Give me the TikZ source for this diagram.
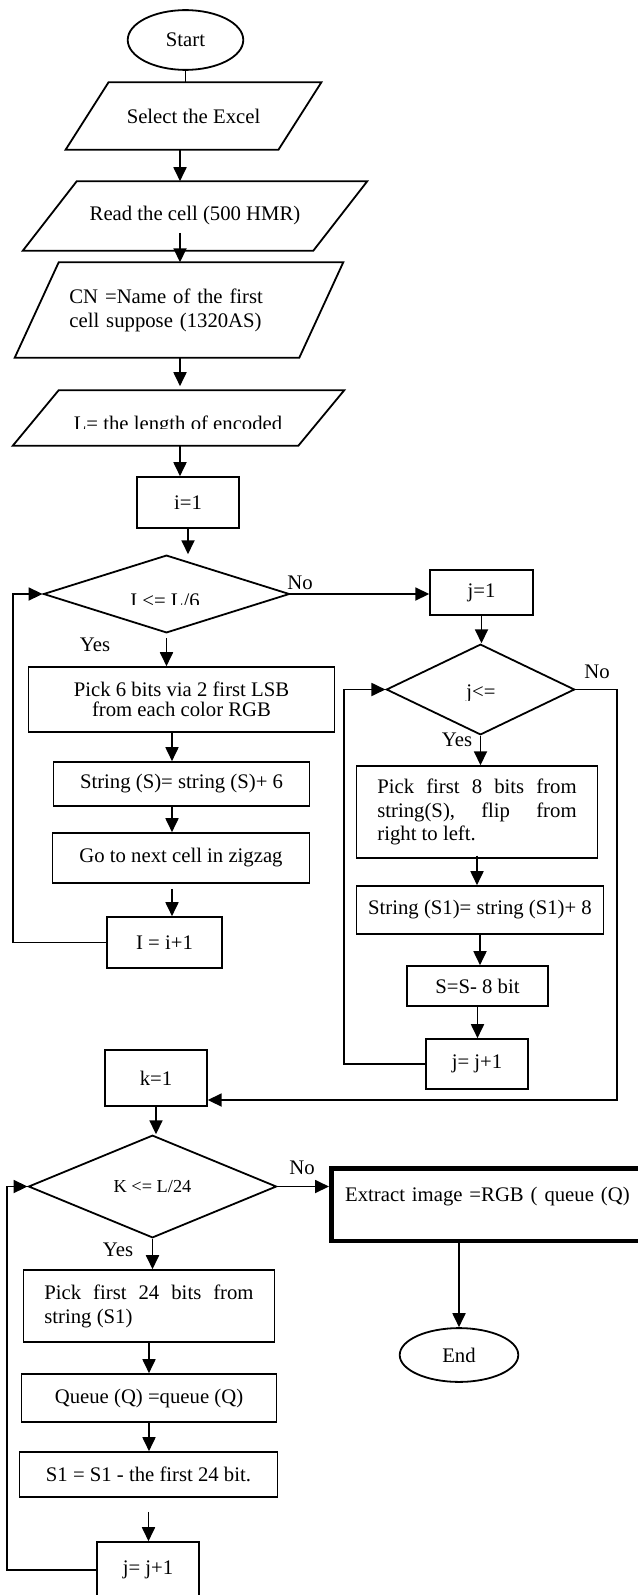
\documentclass[tikz,border=0pt]{standalone}
\usepackage{fontspec}
\setmainfont{Liberation Serif}
\usetikzlibrary{arrows.meta,calc,shapes.geometric}

\begin{document}
\begin{tikzpicture}[
    x=1bp, y=-1bp,
    font=\fontsize{20.8}{24}\selectfont,
    line width=1.8bp,
    box/.style={draw, rectangle, inner sep=0pt},
    io/.style={rectangle, inner sep=0pt},
    dec/.style={draw, diamond, inner sep=0pt},
    term/.style={draw, ellipse, inner sep=0pt},
    arr/.style={-{Triangle[length=14bp,width=13bp]}},
    lbl/.style={inner sep=0pt}
  ]
  \clip (0,0) rectangle (638,1595);

  % first column
  \node[term, minimum width=116, minimum height=60] (start) at (185.5,40) {Start};
  \node[io, minimum width=255, minimum height=66] (excel) at (193.5,116) {Select the Excel};
  \node[io, minimum width=344, minimum height=68] (readcell) at (195,216) {Read the cell (500 HMR)};
  \node[io, minimum width=328, minimum height=94, text width=220, align=left] (cname) at (179,310)
        {CN =Name of the first\\cell suppose (1320AS)};
  \node[io, minimum width=331, minimum height=54] (len) at (178.5,418) {};
  \begin{scope}
    \clip (0,380) rectangle (638,428);
    \node[lbl, anchor=base] (lentext) at (178,430) {L= the length of encoded};
  \end{scope}
  % slanted outlines of the input boxes
  \draw (excel.south west) -- ($(excel.south east)+(-43,0)$) -- (excel.north east)
        -- ($(excel.north west)+(43,0)$) -- cycle;
  \draw (readcell.south west) -- ($(readcell.south east)+(-54,0)$) -- (readcell.north east)
        -- ($(readcell.north west)+(54,0)$) -- cycle;
  \draw (cname.south west) -- ($(cname.south east)+(-44,0)$) -- (cname.north east)
        -- ($(cname.north west)+(44,0)$) -- cycle;
  \draw (len.south west) -- ($(len.south east)+(-46,0)$) -- (len.north east)
        -- ($(len.north west)+(46,0)$) -- cycle;

  \node[box, minimum width=102, minimum height=51] (ione) at (188,502.5) {i=1};
  \node[dec, minimum width=247, minimum height=78] (cond1) at (166.5,594) {\phantom{X}};
  \begin{scope}
    \clip (40,560) rectangle (290,604);
    \node[lbl, anchor=base] (cond1text) at (165,607) {I <= L/6};
  \end{scope}
  \node[box, minimum width=307, minimum height=65, align=center,
        font=\fontsize{20.8}{20}\selectfont] (pick6) at (181.5,699.5)
        {Pick 6 bits via 2 first LSB\\from each color RGB};
  \node[box, minimum width=257, minimum height=44] (str6) at (181.5,784) {String (S)= string (S)+ 6};
  \node[box, minimum width=258, minimum height=50] (next) at (181,858) {Go to next cell in zigzag};
  \node[box, minimum width=115, minimum height=51] (iinc) at (164.5,942.5) {I = i+1};

  % second column
  \node[box, minimum width=103, minimum height=45] (jone) at (481.5,592.5) {j=1};
  \node[dec, minimum width=189, minimum height=91] (cond2) at (480.5,689.5) {\phantom{X}};
  \begin{scope}
    \clip (386,640) rectangle (575,700);
    \node[lbl, anchor=base] (cond2text) at (481,698) {j<=};
  \end{scope}
  \node[box, minimum width=242, minimum height=92, text width=200, align=justify] (pick8) at (477,812)
        {Pick first 8 bits from\linebreak string(S), flip from\linebreak right to left.};
  \node[box, minimum width=248, minimum height=48] (str8) at (480,910) {String (S1)= string (S1)+ 8};
  \node[box, minimum width=141, minimum height=40] (ssub) at (477.5,986) {S=S- 8 bit};
  \node[box, minimum width=102, minimum height=50] (jinc) at (477,1064) {j= j+1};

  % third part
  \node[box, minimum width=102, minimum height=56] (kone) at (156,1078) {k=1};
  \node[dec, minimum width=249, minimum height=103,
        font=\fontsize{18.4}{22}\selectfont] (cond3) at (152.5,1186.5) {K <= L/24};
  \node[box, line width=4.5bp, text width=295, inner xsep=14, align=left,
        text height=33, text depth=40, anchor=north west] (extract) at (329,1166)
        {Extract image =RGB ( queue (Q)};
  \node[term, minimum width=119, minimum height=54] (stop) at (459,1355) {End};
  \node[box, minimum width=252, minimum height=72, text width=210, align=justify] (pick24) at (149,1306)
        {Pick first 24 bits from\linebreak string (S1)};
  \node[box, minimum width=256, minimum height=48] (queue) at (149,1398) {Queue (Q) =queue (Q)};
  \node[box, minimum width=259, minimum height=45] (cut) at (148.5,1474.5) {S1 = S1 - the first 24 bit.};
  \node[box, minimum width=102, minimum height=56] (jinc2) at (148,1570) {j= j+1};

  % labels
  \node[lbl] (no1) at (300,583) {No};
  \node[lbl] (yes1) at (95,645) {Yes};
  \node[lbl] (no2) at (597,672) {No};
  \node[lbl] (yes2) at (457,740) {Yes};
  \node[lbl] (no3) at (302,1168) {No};
  \node[lbl] (yes3) at (118,1250) {Yes};

  \coordinate (colA) at (180,0);
  \coordinate (colB) at (172,0);
  \coordinate (loopA) at (13,0);
  \coordinate (loopB) at (344,0);
  \coordinate (loopC) at (7,0);
  \coordinate (knee) at (617,1100);

  % connectors
  \draw (start.south) -- (start.south |- excel.north);
  \draw[arr] (excel.south -| colA) -- (readcell.north -| colA);
  \draw[arr] ($(readcell.south -| colA)+(0,-18)$) -- (cname.north -| colA);
  \draw[arr] (cname.south -| colA) -- ($(len.north -| colA)+(0,-4)$);
  \draw[arr] (len.south -| colA) -- (ione.north -| colA);
  \draw[arr] (ione.south) -- (ione.south |- cond1.north);
  \draw[arr] ($(cond1.south)+(0,4)$) -- (cond1.south |- pick6.north);
  \draw[arr] (pick6.south -| colB) -- (str6.north -| colB);
  \draw[arr] (str6.south -| colB) -- (next.north -| colB);
  \draw[arr] ($(next.south -| colB)+(0,5)$) -- (iinc.north -| colB);
  \draw[arr] (iinc.west) -- (iinc.west -| loopA) |- (cond1.west);
  \draw[arr] (cond1.east) -- (cond1.east -| jone.west);

  \draw[arr] (jone.south) -- (jone.south |- cond2.north);
  \draw[arr] (cond2.south) -- (cond2.south |- pick8.north);
  \draw[arr] ($(pick8.south)+(0,-3)$) -- (pick8.south |- str8.north);
  \draw[arr] (str8.south) -- (str8.south |- ssub.north);
  \draw[arr] (ssub.south) -- (ssub.south |- jinc.north);
  \draw[arr] (jinc.west) -- (jinc.west -| loopB) |- (cond2.west);
  \draw[arr] (cond2.east) -| (knee) -- (knee -| kone.east);

  \draw[arr] (kone.south) -- (kone.south |- cond3.north);
  \draw[arr] (cond3.east) -- (cond3.east -| extract.west);
  \draw[arr] (extract.south -| stop.north) -- (stop.north);
  \draw[arr] (cond3.south) -- (cond3.south |- pick24.north);
  \draw[arr] (pick24.south) -- (pick24.south |- queue.north);
  \draw[arr] (queue.south) -- (queue.south |- cut.north);
  \draw[arr] ($(cut.south)+(0,14)$) -- (cut.south |- jinc2.north);
  \draw[arr] (jinc2.west) -- (jinc2.west -| loopC) |- (cond3.west);
\end{tikzpicture}
\end{document}
